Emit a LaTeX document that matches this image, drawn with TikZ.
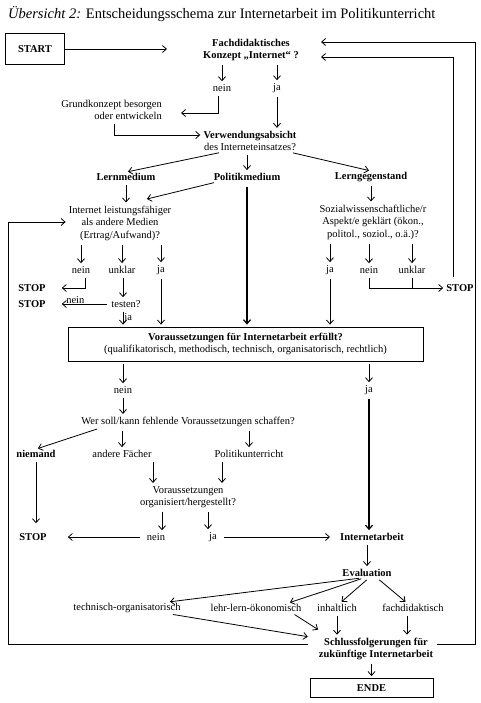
\documentclass[tikz,border=0pt]{standalone}
\usepackage{fontspec}
\setmainfont{Liberation Serif}
\usetikzlibrary{arrows.meta,calc}
\begin{document}
\begin{tikzpicture}[x=1pt,y=-1pt,
  every node/.style={font=\fontsize{10.5}{12.5}\selectfont, inner sep=1pt, align=center},
  b/.style={font=\fontsize{10.5}{12.5}\selectfont\bfseries},
  arr/.style={draw, line width=0.8pt, -{Straight Barb[length=4pt,width=7pt]}, shorten <=3pt, shorten >=2pt},
  ln/.style={draw, line width=0.8pt, shorten <=3pt},
  thk/.style={line width=1.2pt},
  frame/.style={draw, line width=0.8pt}
]
\useasboundingbox (0,0) rectangle (480,703);

% ---------- nodes ----------
\node[anchor=west, font=\fontsize{14.5}{17}\selectfont] (title) at (7,14) {\textit{Übersicht 2:} Entscheidungsschema zur Internetarbeit im Politikunterricht};

\node[frame, b, minimum width=59pt, minimum height=31pt] (start) at (35,49) {START};
\node[b, inner xsep=20pt] (fk) at (251,50) {Fachdidaktisches\\Konzept „Internet“ ?};
\node (n1) at (222,88) {nein};
\node (j1) at (277,88) {ja};
\node[align=right, anchor=east] (gk) at (163,110) {Grundkonzept besorgen\\oder entwickeln};
\node (va) at (250,141) {\textbf{Verwendungsabsicht}\\des Interneteinsatzes?};
\node[b] (lm) at (126,177) {Lernmedium};
\node[b] (pm) at (247,177) {Politikmedium};
\node[b] (lg) at (371,177) {Lerngegenstand};
\node (ilf) at (120,223) {Internet leistungsfähiger\\als andere Medien\\(Ertrag/Aufwand)?};
\node (sw) at (373,222) {Sozialwissenschaftliche/r\\Aspekt/e geklärt (ökon.,\\politol., soziol., o.ä.)?};
\node (n2) at (81,270) {nein};
\node (u2) at (122,270) {unklar};
\node (j2) at (161,270) {ja};
\node (j3) at (330,270) {ja};
\node (n3) at (369,270) {nein};
\node (u3) at (412,270) {unklar};
\node[b] (s1) at (32,288) {STOP};
\node[b] (s2) at (32,304) {STOP};
\node (te) at (126,304) {testen?};
\node[b] (s3) at (460,288) {STOP};
\node[frame, minimum width=355pt, minimum height=34pt] (box) at (245.5,344)
  {\textbf{Voraussetzungen für Internetarbeit erfüllt?}\\(qualifikatorisch, methodisch, technisch, organisatorisch, rechtlich)};
\node (n4) at (123,390) {nein};
\node (j4) at (369,390) {ja};
\node (wer) at (188,422) {Wer soll/kann fehlende Voraussetzungen schaffen?};
\node[b] (nie) at (36,454) {niemand};
\node (af) at (122,454) {andere Fächer};
\node (pu) at (249,454) {Politikunterricht};
\node (vo) at (188,497) {Voraussetzungen\\organisiert/hergestellt?};
\node[b] (s4) at (33,537) {STOP};
\node (n5) at (156,537) {nein};
\node (j5) at (213,537) {ja};
\node[b] (ia) at (372,537) {Internetarbeit};
\node[b] (ev) at (367,573) {Evaluation};
\node (tech) at (127,608) {technisch-organisatorisch};
\node (lehr) at (256,608) {lehr-lern-ökonomisch};
\node (inh) at (337,608) {inhaltlich};
\node (fach) at (413,608) {fachdidaktisch};
\node[b] (sf) at (376,649) {Schlussfolgerungen für\\zukünftige Internetarbeit};
\node[frame, b, minimum width=123pt, minimum height=19pt] (ende) at (371.5,688) {ENDE};

% ---------- helper coordinates ----------
\coordinate (cl1) at (8,644);
\coordinate (cl2) at (8,222);
\coordinate (cr1) at (475,644);
\coordinate (cr2) at (475,42);
\coordinate (cs) at (453,57);
\coordinate (sfl) at ($(sf.west |- cl1)+(-10,0)$);
\coordinate (ga) at ($(gk.south)+(3,0)$);
\coordinate (vo1) at ($(vo.north)+(-35,0)$);
\coordinate (vo2) at ($(vo.north)+(34,0)$);
\coordinate (vo3) at ($(vo.south)+(-26,0)$);
\coordinate (vo4) at ($(vo.south)+(20,0)$);
\coordinate (fa) at ($(fach.south)+(-6,0)$);
\coordinate (tt) at ($(u2.south)+(1,0)$);

% ---------- connectors ----------
\draw[arr, shorten <=0pt, shorten >=16pt] (start) -- (fk.west |- start);
\draw[arr] (fk.south -| n1) -- (n1.north);
\draw[arr] (fk.south -| j1) -- (j1.north);
\draw[arr, shorten >=18pt] ([xshift=-4pt]n1.south) |- ([yshift=-3pt]gk.east);
\draw[arr] (ga) |- ([yshift=6pt]va.west);
\draw[arr] (j1.south) -- (j1.south |- va.north);

\draw[arr] ([xshift=-28pt]va.south) -- (lm.north);
\draw[arr] (va.south -| pm) -- (pm.north);
\draw[arr] ([xshift=40pt]va.south) -- (lg.north);

\draw[arr] (lm.south) -- (lm.south |- ilf.north);
\draw[arr] ([xshift=-30pt]pm.south) -- ([xshift=25pt,yshift=5pt]ilf.north);
\draw[arr, thk, shorten <=5pt] (pm.south) -- (pm.south |- box.north);
\draw[arr] (lg.south) -- (lg.south |- sw.north);

\draw[arr] (ilf.south -| n2) -- (n2.north);
\draw[arr] (ilf.south -| u2) -- (u2.north);
\draw[arr] (ilf.south -| j2) -- (j2.north);
\draw[arr, shorten >=15pt] ([xshift=4pt]n2.south) |- (s1.east);
\draw[arr] (tt) -- (tt |- te.north);
\draw[arr, shorten >=15pt] (te.west) -- (te.west -| s2.east)
  node[pos=0.55, above, inner sep=0.3pt] {nein};
\draw[arr] (te.south -| tt) -- (tt |- box.north) node[midway, right, inner sep=1pt] {ja};
\draw[arr] (j2.south) -- (j2.south |- box.north);

\draw[arr] (sw.south -| j3) -- (j3.north);
\draw[arr] (sw.south -| n3) -- (n3.north);
\draw[arr] (sw.south -| u3) -- (u3.north);
\draw[arr] (j3.south) -- (j3.south |- box.north);
\draw[arr] (n3.south) |- (s3.west);
\draw[ln] (u3.south) -- (u3.south |- s3.west);
\draw[arr, shorten <=6pt] (s3.north -| cs) -- (cs) -- (fk.east |- cs);

% feedback loops
\draw[arr, shorten <=0pt] (sfl) -- (cl1) -- (cl2) -- (ilf.west |- cl2);
\draw[arr] (sf.east |- cr1) -- (cr1) -- (cr2) -- (fk.east |- cr2);

\draw[arr] (box.south -| n4) -- (n4.north);
\draw[arr] (box.south -| j4) -- (j4.north);
\draw[arr] (n4.south) -- (n4.south |- wer.north);
\draw[arr, thk] (j4.south) -- (j4.south |- ia.north);

\draw[arr] ([xshift=-88pt]wer.south) -- (nie.north);
\draw[arr] (wer.south -| af) -- (af.north);
\draw[arr] (wer.south -| pu) -- (pu.north);
\draw[arr, shorten >=9pt] (nie.south) -- (nie.south |- s4.north);
\draw[arr] (vo1 |- af.south) -- (vo1);
\draw[arr] (vo2 |- pu.south) -- (vo2);
\draw[arr] (vo3) -- (vo3 |- n5.north);
\draw[arr] (vo4) -- (vo4 |- j5.north);
\draw[arr, shorten <=6pt, shorten >=20pt] (n5.west) -- (n5.west -| s4.east);
\draw[arr, shorten <=6pt, shorten >=9pt] (j5.east) -- (j5.east -| ia.west);

\draw[arr] (ev.north |- ia.south) -- (ev.north);
\draw[arr] ([xshift=-5pt]ev.south) -- ([xshift=41pt]tech.north);
\draw[arr] ([xshift=-3pt]ev.south) -- ([xshift=32pt]lehr.north);
\draw[arr] ([xshift=2pt]ev.south) -- ([xshift=3pt]inh.north);
\draw[arr] ([xshift=10pt]ev.south) -- ([xshift=-6pt]fach.north);

\draw[arr] ([xshift=43pt]tech.south) -- ([xshift=-8pt,yshift=12pt]sf.west);
\draw[arr] ([xshift=36pt]lehr.south) -- ([xshift=2pt,yshift=6pt]sf.north west);
\draw[arr] (inh.south) -- (inh.south |- sf.north);
\draw[arr] (fa) -- (fa |- sf.north);
\draw[arr] (sf.south -| ende) -- (ende.north);
\end{tikzpicture}
\end{document}
